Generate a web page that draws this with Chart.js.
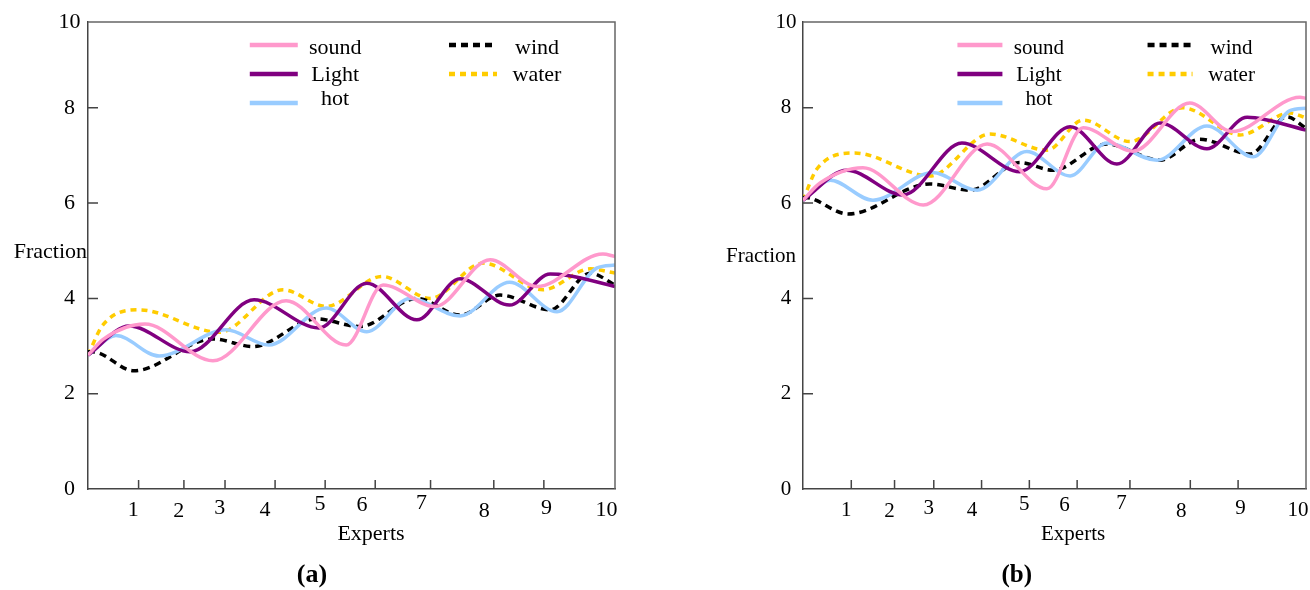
<!DOCTYPE html>
<html>
<head>
<meta charset="utf-8">
<script src="https://cdn.jsdelivr.net/npm/chart.js@4"></script>
<style>
  body { margin: 0; background: #fff; }
  #wrap { position: relative; width: 1310px; height: 590px; }
  canvas { position: absolute; top: 0; }
</style>
</head>
<body>
<div id="wrap">
  <canvas id="chartA" width="655" height="590" style="left:0"></canvas>
  <canvas id="chartB" width="655" height="590" style="left:655px"></canvas>
</div>
<script>
// values, [x, y] in axis units
const soundA = [[0,2.81],[0.3,3.15],[1.08,3.46],[2.37,2.69],[3.76,3.95],[4.9,3.02],[5.6,4.28],[6.58,3.83],[7.63,4.81],[8.52,4.25],[9.77,4.93],[10,4.88]];
const lightA = [[0,2.81],[0.78,3.42],[1.94,2.88],[3.15,3.97],[4.38,3.38],[5.29,4.32],[6.24,3.55],[7.06,4.41],[8.0,3.86],[8.77,4.51],[9.1,4.48],[10,4.25]];
const hotA   = [[0,2.81],[0.53,3.22],[1.35,2.79],[2.62,3.34],[3.43,3.02],[4.52,3.8],[5.29,3.3],[6.11,4.0],[7.06,3.63],[8.0,4.34],[8.9,3.72],[9.66,4.64],[10,4.7]];
const windA  = [[0,2.88],[0.15,2.87],[0.87,2.48],[2.37,3.15],[3.13,2.99],[4.33,3.57],[5.16,3.41],[6.24,4.0],[7.06,3.65],[7.82,4.07],[8.77,3.76],[9.53,4.53],[10,4.28]];
const waterA = [[0,2.81],[0.28,3.44],[0.97,3.76],[2.49,3.29],[3.7,4.18],[4.52,3.83],[5.58,4.46],[6.49,4.0],[7.5,4.74],[8.63,4.18],[9.53,4.62],[10,4.53]];

const soundB = [[0,6.06],[0.34,6.42],[1.19,6.74],[2.39,5.96],[3.66,7.24],[4.85,6.3],[5.57,7.58],[6.56,7.09],[7.69,8.1],[8.53,7.5],[9.88,8.22],[10,8.2]];
const lightB = [[0,6.06],[0.87,6.69],[1.99,6.17],[3.16,7.26],[4.31,6.66],[5.31,7.6],[6.24,6.82],[7.1,7.68],[8.03,7.14],[8.83,7.8],[9.2,7.75],[10,7.53]];
const hotB   = [[0,6.06],[0.54,6.48],[1.39,6.06],[2.58,6.64],[3.46,6.27],[4.45,7.08],[5.31,6.57],[6.04,7.26],[7.04,6.9],[8.03,7.62],[8.95,6.97],[9.68,7.94],[10,7.99]];
const windB  = [[0,6.12],[0.15,6.1],[0.9,5.77],[2.52,6.4],[3.32,6.27],[4.31,6.85],[4.97,6.69],[6.04,7.24],[7.1,6.9],[7.89,7.34],[8.89,7.03],[9.62,7.81],[10,7.57]];
const waterB = [[0,6.06],[0.28,6.72],[1.03,7.05],[2.52,6.57],[3.72,7.45],[4.85,7.11],[5.57,7.74],[6.5,7.29],[7.55,8.0],[8.69,7.43],[9.68,7.89],[10,7.79]];

const seriesNames = ['sound', 'Light', 'hot', 'wind', 'water'];
const xTickPos    = [0.96, 1.82, 2.6, 3.55, 4.5, 5.45, 6.5, 7.7, 8.65, 10];
const xLabelPos   = [0.86, 1.72, 2.5, 3.36, 4.4, 5.2, 6.33, 7.52, 8.7, 9.84];
const xTickLabels = ['1', '2', '3', '4', '5', '6', '7', '8', '9', '10'];
const yTickVals   = [0, 2, 4, 6, 8, 9.8];
const yTickLabels = ['0', '2', '4', '6', '8', '10'];

// styles
const colors = ['#ff99cc', '#800080', '#99ccff', '#000000', '#ffcc00'];
const dashes = [[], [], [], [7, 5], [6, 5]];
const labelLift = [0, -1, 1.5, 0, 6, 5, 7, -1, 1.5, 0];
const legendSlots = [[0, 0], [0, 1], [0, 2], [1, 0], [1, 1]];
const SERIF = '"Liberation Serif", "Times New Roman", serif';

var decorPlugin = {
  id: 'decor',
  afterDraw: function(chart) {
    var o = chart.options.plugins.decor;
    var ctx = chart.ctx;
    var a = chart.chartArea;
    var xs = chart.scales.x;
    var ys = chart.scales.y;
    var w = a.right - a.left;
    var i;
    ctx.save();

    // top and right frame
    ctx.strokeStyle = '#666';
    ctx.lineWidth = 1.5;
    ctx.beginPath();
    ctx.moveTo(a.left, a.top);
    ctx.lineTo(a.right, a.top);
    ctx.lineTo(a.right, a.bottom);
    ctx.stroke();

    // inward tick marks
    ctx.strokeStyle = '#444';
    ctx.lineWidth = 1.5;
    ctx.beginPath();
    for (i = 1; i < yTickVals.length - 1; i++) {
      var yy = ys.getPixelForValue(yTickVals[i]);
      ctx.moveTo(a.left, yy);
      ctx.lineTo(a.left + 10, yy);
    }
    for (i = 0; i < xTickPos.length - 1; i++) {
      var xx = xs.getPixelForValue(xTickPos[i]);
      ctx.moveTo(xx, a.bottom);
      ctx.lineTo(xx, a.bottom - 9);
    }
    ctx.stroke();

    ctx.fillStyle = '#000';
    ctx.font = o.fs + 'px ' + SERIF;
    ctx.textAlign = 'center';
    ctx.textBaseline = 'middle';
    for (i = 0; i < xTickLabels.length; i++) {
      ctx.fillText(xTickLabels[i], xs.getPixelForValue(xLabelPos[i]), a.bottom + 21 - labelLift[i]);
    }
    ctx.fillText('Experts', a.left + w * 0.537, a.bottom + 45);

    ctx.textAlign = 'right';
    ctx.fillText('Fraction', a.left + o.fracDx, o.fracY);

    ctx.font = 'bold ' + (o.fs + 4) + 'px ' + SERIF;
    ctx.textAlign = 'center';
    ctx.fillText(o.caption, a.left + w * 0.425, a.bottom + o.capDy);

    // legend
    var lineX = [0.307, 0.685];
    var textX = [0.469, 0.852];
    var rowLine = [45, 74, 103];
    var rowText = [54, 81, 105];
    ctx.font = o.fs + 'px ' + SERIF;
    ctx.textBaseline = 'alphabetic';
    chart.data.datasets.forEach(function(ds, k) {
      var c = legendSlots[k][0], r = legendSlots[k][1];
      var x0 = a.left + w * lineX[c];
      ctx.strokeStyle = ds.borderColor;
      ctx.lineWidth = 4.5;
      ctx.setLineDash(ds.borderDash);
      ctx.beginPath();
      ctx.moveTo(x0, rowLine[r]);
      ctx.lineTo(x0 + o.legLen, rowLine[r]);
      ctx.stroke();
      ctx.setLineDash([]);
      ctx.fillText(ds.label, a.left + w * textX[c], rowText[r]);
    });
    ctx.restore();
  }
};

function makeChart(id, series, o) {
  var datasets = series.map(function(pts, k) {
    return {
      label: seriesNames[k],
      data: pts.map(function(p) { return {x: p[0], y: p[1]}; }),
      borderColor: colors[k],
      borderDash: dashes[k],
      borderWidth: 3.5,
      pointRadius: 0,
      fill: false,
      cubicInterpolationMode: 'monotone'
    };
  });
  return new Chart(document.getElementById(id), {
    type: 'line',
    data: {datasets: datasets},
    plugins: [decorPlugin],
    options: {
      responsive: false,
      animation: false,
      layout: {padding: {left: o.padL, top: 22, right: o.padR, bottom: 101}},
      plugins: {
        legend: {display: false},
        tooltip: {enabled: false},
        decor: o
      },
      scales: {
        x: {
          type: 'linear', min: 0, max: 10,
          grid: {display: false, drawTicks: false},
          ticks: {display: false},
          border: {color: '#444', width: 1.5},
          afterFit: function(s) { s.height = 0; s.paddingLeft = 0; s.paddingRight = 0; }
        },
        y: {
          min: 0, max: 9.8,
          afterBuildTicks: function(s) { s.ticks = yTickVals.map(function(v) { return {value: v}; }); },
          ticks: {
            autoSkip: false,
            callback: function(v, i) { return yTickLabels[i]; },
            font: {family: SERIF, size: o.fs},
            color: '#000',
            padding: o.tickPad,
            crossAlign: 'center'
          },
          grid: {display: false, drawTicks: false},
          border: {color: '#444', width: 1.5},
          afterFit: function(s) { s.width = 40; s.paddingTop = 0; s.paddingBottom = 0; }
        }
      }
    }
  });
}

makeChart('chartA', [soundA, lightA, hotA, windA, waterA],
  {padL: 48, padR: 40, fs: 22, tickPad: 7.5, fracDx: -1, fracY: 252, caption: '(a)', capDy: 86, legLen: 48});
makeChart('chartB', [soundB, lightB, hotB, windB, waterB],
  {padL: 108, padR: 4, fs: 21, tickPad: 6.5, fracDx: -7, fracY: 256, caption: '(b)', capDy: 87, legLen: 45});
</script>
</body>
</html>
